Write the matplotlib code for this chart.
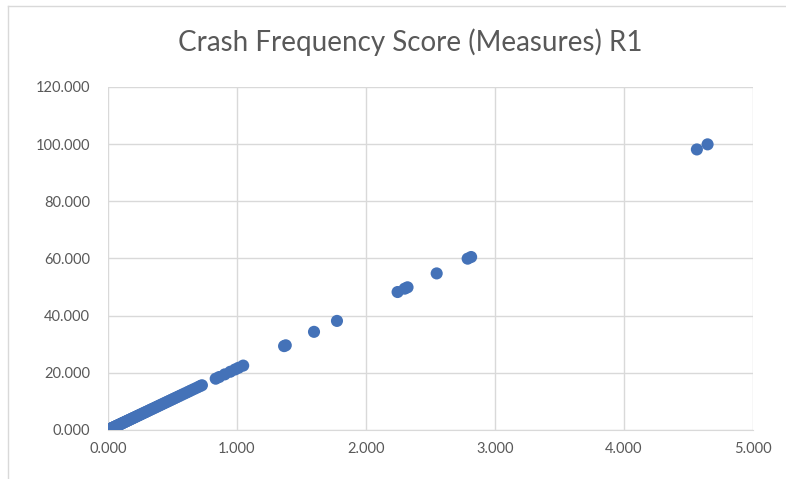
import matplotlib.pyplot as plt
from matplotlib.lines import Line2D

# --- data: measures vs. crash frequency score ---
measures = [
    0.000, 0.004, 0.008, 0.012, 0.018, 0.022, 0.027, 0.031, 0.036, 0.041,
    0.046, 0.052, 0.058, 0.063, 0.069, 0.075, 0.081, 0.088, 0.094, 0.101,
    0.108, 0.114, 0.121, 0.129, 0.136, 0.144, 0.152, 0.160, 0.168, 0.177,
    0.186, 0.195, 0.204, 0.214, 0.224, 0.234, 0.245, 0.256, 0.267, 0.279,
    0.291, 0.303, 0.316, 0.329, 0.342, 0.356, 0.370, 0.384, 0.399, 0.414,
    0.430, 0.446, 0.462, 0.478, 0.495, 0.512, 0.530, 0.548, 0.566, 0.585,
    0.604, 0.624, 0.645, 0.667, 0.690, 0.712, 0.728,
    0.835, 0.862, 0.905, 0.948, 0.985, 1.012, 1.048,
    1.365, 1.378, 1.597, 1.775, 2.245, 2.300, 2.322, 2.548, 2.788, 2.815,
    4.565, 4.648,
]
scores = [
    0.000, 0.086, 0.172, 0.258, 0.387, 0.473, 0.581, 0.667, 0.774, 0.882,
    0.989, 1.118, 1.247, 1.355, 1.484, 1.613, 1.742, 1.892, 2.021, 2.172,
    2.322, 2.451, 2.602, 2.774, 2.924, 3.096, 3.268, 3.440, 3.612, 3.806,
    3.999, 4.193, 4.386, 4.601, 4.816, 5.031, 5.268, 5.504, 5.741, 5.999,
    6.257, 6.515, 6.794, 7.074, 7.353, 7.654, 7.955, 8.256, 8.579, 8.901,
    9.245, 9.589, 9.933, 10.277, 10.643, 11.008, 11.395, 11.782, 12.169, 12.578,
    12.986, 13.416, 13.868, 14.341, 14.835, 15.308, 15.652,
    17.95, 18.53, 19.46, 20.38, 21.18, 21.76, 22.53,
    29.35, 29.63, 34.34, 38.16, 48.27, 49.45, 49.92, 54.78, 59.94, 60.52,
    98.15, 99.93,
]
x_ticks = [0, 1, 2, 3, 4, 5]
y_ticks = [0, 20, 40, 60, 80, 100, 120]

plt.rcParams['font.family'] = ['Lato', 'DejaVu Sans']
fig = plt.figure(figsize=(7.86, 4.79), dpi=100, facecolor='white')
ax = fig.add_axes([0.1374, 0.1023, 0.8206, 0.7161])

ax.scatter(measures, scores, s=76, color='#4472b8', edgecolors='none', zorder=3)

ax.set_xlim(0, 5)
ax.set_ylim(0, 120)
ax.set_xticks(x_ticks)
ax.set_yticks(y_ticks)
ax.set_xticklabels([f'{v:.3f}' for v in x_ticks])
ax.set_yticklabels([f'{v:.3f}' for v in y_ticks])
ax.grid(True, color='#d9d9d9', linewidth=1)
ax.set_axisbelow(True)
for side in ['top', 'right', 'left']:
    ax.spines[side].set_visible(False)
ax.spines['bottom'].set_color('#d9d9d9')
ax.tick_params(length=0, colors='#595959', labelsize=10.5)
ax.tick_params(axis='y', pad=13)
ax.tick_params(axis='x', pad=9)

fig.text(0.522, 0.912, 'Crash Frequency Score (Measures) R1', ha='center', va='center',
         fontsize=20, color='#595959')

# chart frame (top and left edges)
fig.add_artist(Line2D([0.010, 1.0], [0.987, 0.987], color='#d9d9d9', linewidth=1))
fig.add_artist(Line2D([0.010, 0.010], [0.0, 0.987], color='#d9d9d9', linewidth=1))

fig.savefig('out.png', dpi=100, facecolor='white')
